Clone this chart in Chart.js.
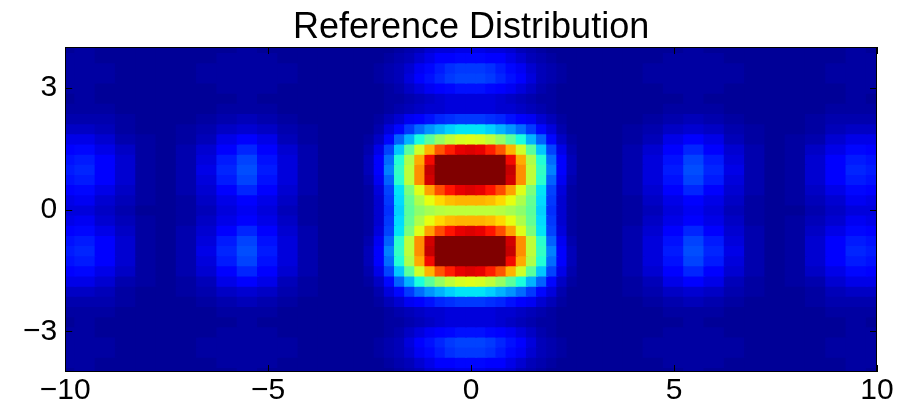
<!DOCTYPE html>
<html>
<head>
<meta charset="utf-8">
<script src="https://cdn.jsdelivr.net/npm/chart.js@4.4.1/dist/chart.umd.min.js"></script>
<style>
html,body{margin:0;padding:0;background:#ffffff;}
#wrap{width:903px;height:404px;position:relative;}
</style>
</head>
<body>
<div id="wrap"><canvas id="c"></canvas></div>
<script>
// ---------- data ----------
const chartTitle = "Reference Distribution";
const xTicks = [-10, -5, 0, 5, 10];
const yTicks = [-3, 0, 3];
const colorRange = [0, 100];   // colour scale limits (values above are clipped)

// cell centres along x and y
const xCenters = [-10,-9.5,-9,-8.5,-8,-7.5,-7,-6.5,-6,-5.5,-5,-4.5,-4,-3.5,
  -3,-2.75,-2.5,-2.25,-2,-1.75,-1.5,-1.25,-1,-0.75,-0.5,-0.25,0,0.25,0.5,0.75,1,1.25,1.5,1.75,2,2.25,2.5,2.75,3,
  3.5,4,4.5,5,5.5,6,6.5,7,7.5,8,8.5,9,9.5,10];
const yCenters = [4,3.75,3.5,3.25,3,2.75,2.5,2.25,2,1.75,1.5,1.25,1,0.75,0.5,0.25,0,
  -0.25,-0.5,-0.75,-1,-1.25,-1.5,-1.75,-2,-2.25,-2.5,-2.75,-3,-3.25,-3.5,-3.75,-4];

// intensity rows (one per |y| level), values along xCenters
const rowY400 = [2,3,2,2,2,2,2,2,2,3,2,2,2,2, 2,2,2,2,2,3,4,5,7,8,8,9, 9, 9,8,8,7,5,4,3,2,2,2,2,2, 2,2,2,2,3,2,2,2,2,2,2,2,3,2];
const rowY375 = [3,3,2,2,2,2,2,2,3,3,3,2,2,2, 2,2,2,2,3,4,5,7,9,11,12,13, 13, 13,12,11,9,7,5,4,3,2,2,2,2, 2,2,2,3,3,3,2,2,2,2,2,2,3,3];
const rowY350 = [3,3,3,2,2,2,2,3,3,3,3,3,2,2, 2,2,2,3,4,5,7,10,13,15,17,18, 18, 18,17,15,13,10,7,5,4,3,2,2,2, 2,2,3,3,3,3,3,2,2,2,2,3,3,3];
const rowY325 = [3,3,3,2,2,2,2,3,3,3,3,3,2,2, 2,2,2,3,4,5,8,11,14,16,18,19, 19, 19,18,16,14,11,8,5,4,3,2,2,2, 2,2,3,3,3,3,3,2,2,2,2,3,3,3];
const rowY300 = [3,3,2,2,2,2,2,2,3,3,3,2,2,2, 2,2,2,2,3,4,6,8,10,12,13,14, 14, 14,13,12,10,8,6,4,3,2,2,2,2, 2,2,2,3,3,3,2,2,2,2,2,2,3,3];
const rowY275 = [2,3,2,2,2,2,2,2,2,3,2,2,2,2, 2,2,2,2,3,3,4,5,6,7,8,8, 8, 8,8,7,6,5,4,3,3,2,2,2,2, 2,2,2,2,3,2,2,2,2,2,2,2,3,2];
const rowY250 = [3,3,3,2,2,2,2,2,3,3,3,2,2,2, 2,2,2,2,3,4,5,6,7,7,8,8, 8, 8,8,7,7,6,5,4,3,2,2,2,2, 2,2,2,3,3,3,2,2,2,2,2,3,3,3];
const rowY225 = [4,4,4,3,2,2,2,3,4,5,4,3,2,2, 2,2,2,3,5,7,10,12,14,16,17,18, 18, 18,17,16,14,12,10,7,5,3,2,2,2, 2,2,3,4,5,4,3,2,2,2,3,4,4,4];
const rowY200 = [6,6,5,3,2,2,3,4,6,7,6,4,3,2, 2,2,2,4,8,13,18,23,27,30,33,35, 35, 35,33,30,27,23,18,13,8,4,2,2,2, 2,3,4,6,7,6,4,3,2,2,3,5,6,6];
const rowY175 = [9,9,7,4,3,2,3,5,9,11,9,5,3,2, 2,2,3,6,13,22,30,38,46,53,58,61, 62, 61,58,53,46,38,30,22,13,6,3,2,2, 2,3,5,9,11,9,5,3,2,3,4,7,9,9];
const rowY150 = [12,13,9,6,3,2,4,7,12,16,12,7,4,2, 2,2,4,9,19,32,46,60,72,82,88,91, 92, 91,88,82,72,60,46,32,19,9,4,2,2, 2,4,7,12,16,12,7,4,2,3,6,9,13,12];
const rowY125 = [14,15,11,7,3,2,4,8,15,19,14,8,4,2, 2,2,5,11,23,39,56,73,90,108,125,136, 140, 136,125,108,90,73,56,39,23,11,5,2,2, 2,4,8,14,19,15,8,4,2,3,7,11,15,14];
const rowY100 = [15,16,12,7,3,2,4,9,16,20,15,8,4,2, 2,2,5,12,25,41,58,76,94,114,132,145, 150, 145,132,114,94,76,58,41,25,12,5,2,2, 2,4,8,15,20,16,9,4,2,3,7,12,16,15];
const rowY075 = [14,15,11,7,3,2,4,8,15,19,14,8,4,2, 2,2,4,10,22,40,58,76,93,108,120,128, 130, 128,120,108,93,76,58,40,22,10,4,2,2, 2,4,8,14,19,15,8,4,2,3,7,11,15,14];
const rowY050 = [12,13,9,6,3,2,4,7,12,16,12,7,4,2, 2,2,3,8,19,35,50,62,74,83,89,91, 92, 91,89,83,74,62,50,35,19,8,3,2,2, 2,4,7,12,16,12,7,4,2,3,6,9,13,12];
const rowY025 = [9,10,7,5,3,2,3,6,9,12,9,6,3,2, 2,2,3,7,18,34,47,56,63,68,71,72, 72, 72,71,68,63,56,47,34,18,7,3,2,2, 2,3,6,9,12,9,6,3,2,3,5,7,10,9];
const rowY000 = [8,8,6,4,2,2,3,5,8,10,8,5,3,2, 2,2,3,7,17,33,46,52,55,57,58,58, 58, 58,58,57,55,52,46,33,17,7,3,2,2, 2,3,5,8,10,8,5,3,2,2,4,6,8,8];

// rows from top (y = 4) to bottom (y = -4); the picture is mirror-symmetric in y
const intensity = [rowY400,rowY375,rowY350,rowY325,rowY300,rowY275,rowY250,rowY225,rowY200,rowY175,rowY150,rowY125,rowY100,rowY075,rowY050,rowY025,
  rowY000,
  rowY025,rowY050,rowY075,rowY100,rowY125,rowY150,rowY175,rowY200,rowY225,rowY250,rowY275,rowY300,rowY325,rowY350,rowY375,rowY400];

// ---------- colour map (jet) ----------
const JET = {
  r: [[0,0],[0.35,0],[0.66,1],[0.89,1],[1,0.5]],
  g: [[0,0],[0.125,0],[0.375,1],[0.64,1],[0.91,0],[1,0]],
  b: [[0,0.5],[0.11,1],[0.34,1],[0.65,0],[1,0]]
};
function seg(pts, v){
  for (let i = 1; i < pts.length; i++){
    if (v <= pts[i][0]){
      const a = pts[i-1], b = pts[i];
      return a[1] + (b[1]-a[1]) * (v - a[0]) / (b[0] - a[0]);
    }
  }
  return pts[pts.length-1][1];
}
function jetColor(val){
  let v = (val - colorRange[0]) / (colorRange[1] - colorRange[0]);
  v = Math.max(0, Math.min(1, v));
  const r = Math.round(255*seg(JET.r, v)), g = Math.round(255*seg(JET.g, v)), b = Math.round(255*seg(JET.b, v));
  return 'rgb(' + r + ',' + g + ',' + b + ')';
}

// cell edges along x (half way between neighbouring centres)
const xEdges = xCenters.map((c, i) => i === 0 ? c - (xCenters[1]-xCenters[0])/2 : (xCenters[i-1] + c)/2);
xEdges.push(xCenters[xCenters.length-1] + (xCenters[xCenters.length-1]-xCenters[xCenters.length-2])/2);

const datasets = intensity.map((row, j) => ({
  label: 'y=' + yCenters[j],
  data: row.map((v, i) => ({ y: yCenters[j], x: [xEdges[i], xEdges[i+1]] })),
  backgroundColor: row.map(v => jetColor(v)),
  borderWidth: 0,
  inflateAmount: 1,
  grouped: false,
  barPercentage: 1,
  categoryPercentage: 1,
  clip: 0
}));

const fmt = v => (v < 0 ? '\u2212' + Math.abs(v) : String(v));
const tickFont = { family: 'Liberation Sans, Arial, sans-serif', size: 30, lineHeight: 0.9 };

const frameTicks = {
  id: 'frameTicks',
  afterDatasetsDraw(chart){
    const { ctx, chartArea: a, scales } = chart;
    ctx.save();
    ctx.strokeStyle = '#000';
    ctx.lineWidth = 1;
    ctx.beginPath();
    const L = 7;
    xTicks.forEach(t => {
      const px = Math.round(scales.x.getPixelForValue(t)) + 0.5;
      ctx.moveTo(px, a.bottom); ctx.lineTo(px, a.bottom - L);
      ctx.moveTo(px, a.top); ctx.lineTo(px, a.top + L);
    });
    yTicks.forEach(t => {
      const py = Math.round(scales.y.getPixelForValue(t)) + 0.5;
      ctx.moveTo(a.left, py); ctx.lineTo(a.left + L, py);
      ctx.moveTo(a.right, py); ctx.lineTo(a.right - L, py);
    });
    ctx.stroke();
    ctx.strokeRect(Math.round(a.left) + 0.5, Math.round(a.top) + 0.5, Math.round(a.right - a.left) - 1, Math.round(a.bottom - a.top) - 1);
    ctx.restore();
  }
};

new Chart(document.getElementById('c'), {
  type: 'bar',
  data: { datasets },
  options: {
    indexAxis: 'y',
    responsive: true,
    maintainAspectRatio: false,
    animation: false,
    layout: { padding: { left: 15, right: 26, top: 0, bottom: -5 } },
    plugins: {
      legend: { display: false },
      tooltip: { enabled: false },
      title: {
        display: true,
        text: chartTitle,
        fullSize: false,
        color: '#000',
        font: { family: 'Liberation Sans, Arial, sans-serif', size: 36, weight: 'normal', lineHeight: 1 },
        padding: { top: 10, bottom: 1 }
      }
    },
    scales: {
      x: {
        type: 'linear', min: -10, max: 10, offset: false,
        afterBuildTicks: s => { s.ticks = xTicks.map(v => ({ value: v })); },
        ticks: { font: tickFont, color: '#000', padding: 5, maxRotation: 0, callback: v => fmt(v) },
        grid: { display: false, drawTicks: false },
        border: { display: false }
      },
      y: {
        type: 'linear', min: -4, max: 4, offset: false,
        afterBuildTicks: s => { s.ticks = yTicks.map(v => ({ value: v })); },
        ticks: { font: tickFont, color: '#000', padding: 8, callback: v => fmt(v) },
        grid: { display: false, drawTicks: false, offset: false },
        border: { display: false }
      }
    }
  },
  plugins: [frameTicks]
});
</script>
</body>
</html>
